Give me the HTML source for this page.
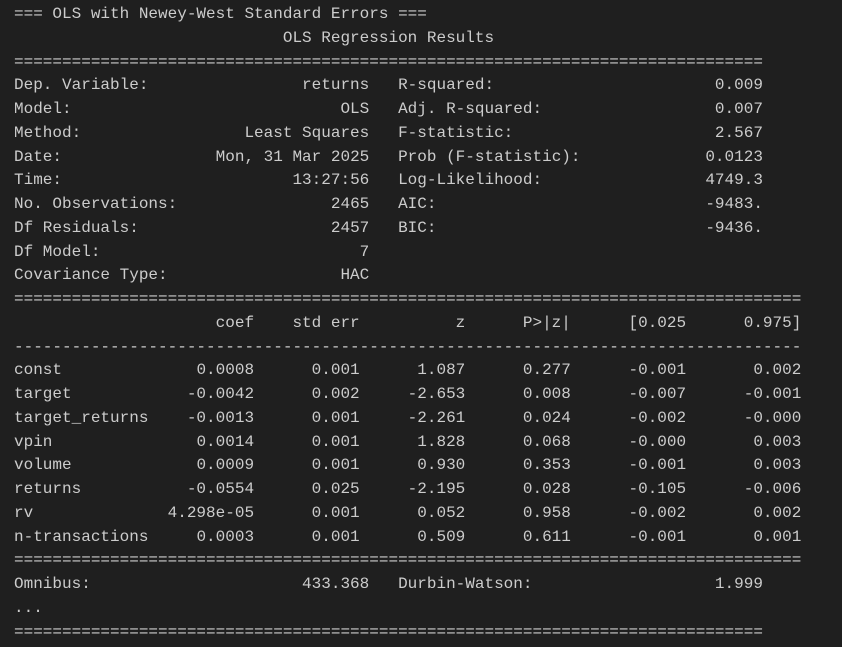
<!DOCTYPE html>
<html><head><meta charset="utf-8">
<style>
html,body{margin:0;padding:0;background:#1f1f1f;}
body{width:842px;height:647px;overflow:hidden;}
#out{position:absolute;left:14px;top:3px;font-family:"Liberation Mono",monospace;font-size:16px;color:#cccccc;}
.r{position:relative;height:23.75px;line-height:23.75px;width:82ch;white-space:pre;}
.r span{position:absolute;top:0;white-space:pre;}
.e25{right:57ch}.e36{right:46ch}.e47{right:35ch}.e58{right:24ch}.e70{right:12ch}.e82{right:0}
.e37{right:45ch}.l40{left:40ch}.e78{right:4ch}.l0{left:0}
</style></head><body>
<div id="out">
<div class="r">=== OLS with Newey-West Standard Errors ===</div>
<div class="r">                            OLS Regression Results</div>
<div class="r">==============================================================================</div>
<div class="r"><span class="l0">Dep. Variable:</span><span class="e37">returns</span><span class="l40">R-squared:</span><span class="e78">0.009</span></div>
<div class="r"><span class="l0">Model:</span><span class="e37">OLS</span><span class="l40">Adj. R-squared:</span><span class="e78">0.007</span></div>
<div class="r"><span class="l0">Method:</span><span class="e37">Least Squares</span><span class="l40">F-statistic:</span><span class="e78">2.567</span></div>
<div class="r"><span class="l0">Date:</span><span class="e37">Mon, 31 Mar 2025</span><span class="l40">Prob (F-statistic):</span><span class="e78">0.0123</span></div>
<div class="r"><span class="l0">Time:</span><span class="e37">13:27:56</span><span class="l40">Log-Likelihood:</span><span class="e78">4749.3</span></div>
<div class="r"><span class="l0">No. Observations:</span><span class="e37">2465</span><span class="l40">AIC:</span><span class="e78">-9483.</span></div>
<div class="r"><span class="l0">Df Residuals:</span><span class="e37">2457</span><span class="l40">BIC:</span><span class="e78">-9436.</span></div>
<div class="r"><span class="l0">Df Model:</span><span class="e37">7</span></div>
<div class="r"><span class="l0">Covariance Type:</span><span class="e37">HAC</span></div>
<div class="r">==================================================================================</div>
<div class="r"><span class="e25">coef</span><span class="e36">std err</span><span class="e47">z</span><span class="e58">P&gt;|z|</span><span class="e70">[0.025</span><span class="e82">0.975]</span></div>
<div class="r">----------------------------------------------------------------------------------</div>
<div class="r"><span class="l0">const</span><span class="e25">0.0008</span><span class="e36">0.001</span><span class="e47">1.087</span><span class="e58">0.277</span><span class="e70">-0.001</span><span class="e82">0.002</span></div>
<div class="r"><span class="l0">target</span><span class="e25">-0.0042</span><span class="e36">0.002</span><span class="e47">-2.653</span><span class="e58">0.008</span><span class="e70">-0.007</span><span class="e82">-0.001</span></div>
<div class="r"><span class="l0">target_returns</span><span class="e25">-0.0013</span><span class="e36">0.001</span><span class="e47">-2.261</span><span class="e58">0.024</span><span class="e70">-0.002</span><span class="e82">-0.000</span></div>
<div class="r"><span class="l0">vpin</span><span class="e25">0.0014</span><span class="e36">0.001</span><span class="e47">1.828</span><span class="e58">0.068</span><span class="e70">-0.000</span><span class="e82">0.003</span></div>
<div class="r"><span class="l0">volume</span><span class="e25">0.0009</span><span class="e36">0.001</span><span class="e47">0.930</span><span class="e58">0.353</span><span class="e70">-0.001</span><span class="e82">0.003</span></div>
<div class="r"><span class="l0">returns</span><span class="e25">-0.0554</span><span class="e36">0.025</span><span class="e47">-2.195</span><span class="e58">0.028</span><span class="e70">-0.105</span><span class="e82">-0.006</span></div>
<div class="r"><span class="l0">rv</span><span class="e25">4.298e-05</span><span class="e36">0.001</span><span class="e47">0.052</span><span class="e58">0.958</span><span class="e70">-0.002</span><span class="e82">0.002</span></div>
<div class="r"><span class="l0">n-transactions</span><span class="e25">0.0003</span><span class="e36">0.001</span><span class="e47">0.509</span><span class="e58">0.611</span><span class="e70">-0.001</span><span class="e82">0.001</span></div>
<div class="r">==================================================================================</div>
<div class="r"><span class="l0">Omnibus:</span><span class="e37">433.368</span><span class="l40">Durbin-Watson:</span><span class="e78">1.999</span></div>
<div class="r">...</div>
<div class="r">==============================================================================</div>
</div>
</body></html>
